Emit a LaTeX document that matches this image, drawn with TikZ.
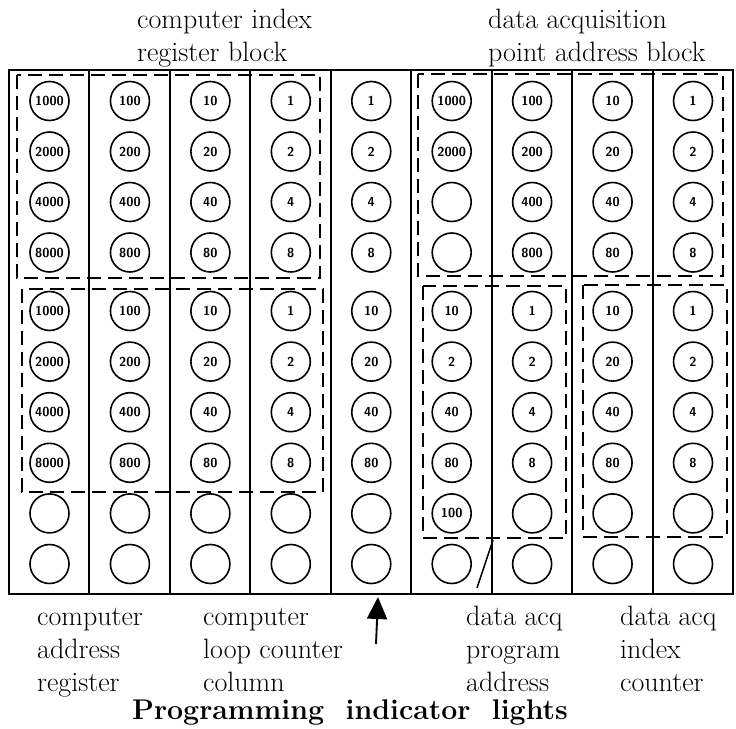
\documentclass[tikz,border=0pt]{standalone}
\usepackage{xcolor}
\usepackage{tikz}
\usetikzlibrary{arrows.meta}

\begin{document}
\begin{tikzpicture}[x=1pt, y=-1pt,
  lamp/.style={circle, draw, line width=1.6pt, minimum size=39pt, inner sep=0pt, font=\fontsize{13}{13}\selectfont\sffamily\bfseries},
  panel/.style={line width=2pt},
  groupbox/.style={line width=1.4pt, dash pattern=on 14pt off 7pt},
  lbl/.style={inner sep=0pt, align=left, anchor=north west, font=\fontsize{28}{33}\selectfont},
  pointer/.style={-{Triangle[width=20pt,length=22pt]}, line width=1.9pt}]

\useasboundingbox (0,0) rectangle (736,728);

\draw[panel] (9,70) rectangle (733,594);
\foreach \k in {1,...,8}
  \draw[panel] ({round(9+80.44*\k)},70) -- ({round(9+80.44*\k)},594);

\foreach \col/\labs in {1/{1000,2000,4000,8000,1000,2000,4000,8000,{},{}},
                        2/{100,200,400,800,100,200,400,800,{},{}},
                        3/{10,20,40,80,10,20,40,80,{},{}},
                        4/{1,2,4,8,1,2,4,8,{},{}},
                        5/{1,2,4,8,10,20,40,80,{},{}},
                        6/{1000,2000,{},{},10,2,40,80,100,{}},
                        7/{100,200,400,800,1,2,4,8,{},{}},
                        8/{10,20,40,80,10,20,40,80,{},{}},
                        9/{1,2,4,8,1,2,4,8,{},{}}}
  \foreach \lab [count=\row] in \labs {
    \pgfmathsetmacro{\xx}{49.5+80.44*(\col-1)}
    \pgfmathsetmacro{\yy}{\row<5 ? 101+50.5*(\row-1) : 311+50.6*(\row-5)}
    \node[lamp] (c\col-\row) at (\xx,\yy) {\lab};
  }

\draw[groupbox] (17,75) rectangle (320,278);
\draw[groupbox] (22,289) rectangle (323,492);
\draw[groupbox] (418,74) rectangle (723,276);
\draw[groupbox] (423,286) rectangle (566,538);
\draw[groupbox] (583,285) rectangle (727,537);

\coordinate (slashtop) at (493,540);
\coordinate (slashfoot) at (477,588);
\draw[line width=1.5pt] (slashtop) -- (slashfoot);

\node[lbl] (indexblock) at (137,9) {computer index\\register block};
\node[lbl] (pointblock) at (488,9) {data acquisition\\point address block};

\node[lbl] (addrreg) at (37,608) {computer\\address\\register};
\node[lbl] (loopcol) at (203,608) {computer\\loop counter\\column};
\node[lbl] (progaddr) at (466,606) {data acq\\program\\address};
\node[lbl] (indexcnt) at (620,606) {data acq\\index\\counter};

\coordinate (arrowfoot) at (376,644);
\coordinate (arrowtip) at (378,597);
\draw[pointer] (arrowfoot) -- (arrowtip);

\node[font=\fontsize{28.5}{28.5}\selectfont\bfseries] (title) at (350,712) {Programming\ \ indicator\ \ lights};
\end{tikzpicture}
\end{document}
